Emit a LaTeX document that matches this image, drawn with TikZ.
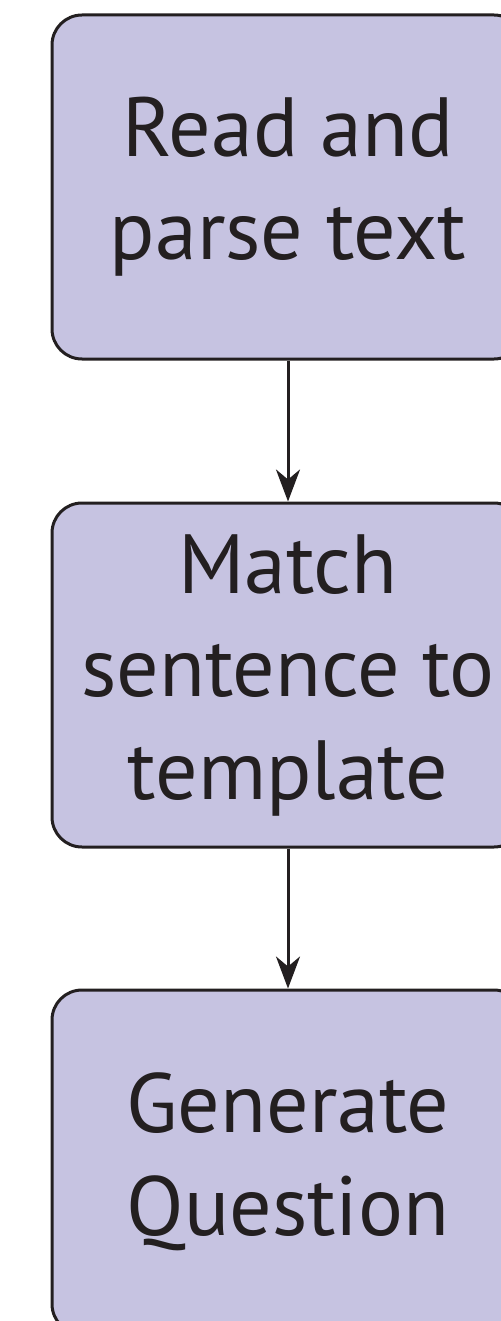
\documentclass[tikz,border=0pt]{standalone}
\usepackage{fontspec}
\setmainfont{PT Sans}
\usetikzlibrary{arrows.meta}

\definecolor{boxfill}{RGB}{198,195,225}
\definecolor{ink}{RGB}{35,31,32}

\begin{document}
\begin{tikzpicture}[x=0.5pt, y=-0.5pt,
    stepbox/.style={draw=ink, fill=boxfill, line width=1.5pt, rounded corners=15pt,
      minimum width=236pt, minimum height=172pt, align=center, text=ink,
      font=\fontsize{42}{51.5}\selectfont, inner sep=0pt},
    flow/.style={draw=ink, line width=1.5pt, -{Stealth[length=16pt, width=12pt, inset=5pt]}}]
  \useasboundingbox (0,0) rectangle (501,1321);
  % Boxes
  \node[stepbox] (read) at (288,187) {Read and\\parse text};
  \node[stepbox] (match) at (288,675) {Match\\sentence to\\template};
  \node[stepbox] (gen) at (288,1162) {Generate\\Question};
  % Arrows
  \draw[flow] (read.south) -- (match.north);
  \draw[flow] (match.south) -- (gen.north);
\end{tikzpicture}
\end{document}
